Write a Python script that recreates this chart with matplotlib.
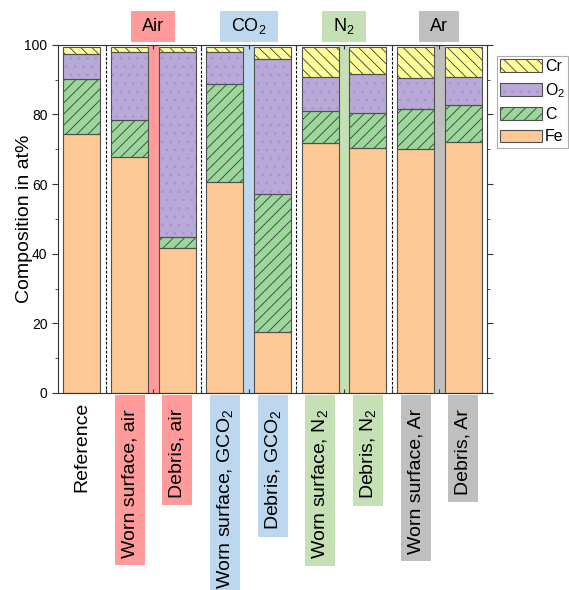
import numpy as np
import matplotlib
matplotlib.use('Agg')
import matplotlib.pyplot as plt
from matplotlib.patches import Patch, Rectangle
from matplotlib.transforms import IdentityTransform
from matplotlib.legend_handler import HandlerTuple
from matplotlib.ticker import MultipleLocator

plt.rcParams['font.family'] = ['Liberation Sans', 'DejaVu Sans']
plt.rcParams['mathtext.fontset'] = 'custom'
plt.rcParams['mathtext.rm'] = 'Liberation Sans'
plt.rcParams['mathtext.it'] = 'Liberation Sans:italic'
plt.rcParams['hatch.linewidth'] = 0.6

# EDX composition (at%) per sample
samples = ['Reference', 'Worn surface, air', 'Debris, air',
           'Worn surface, GCO$_2$', 'Debris, GCO$_2$',
           'Worn surface, N$_2$', 'Debris, N$_2$',
           'Worn surface, Ar', 'Debris, Ar']
fe = [74.5, 67.9, 41.7, 60.6, 17.5, 71.8, 70.5, 70.0, 72.2]
c = [15.7, 10.4, 3.2, 28.2, 39.6, 9.3, 9.9, 11.6, 10.5]
o2 = [7.3, 19.7, 53.0, 9.2, 38.9, 9.8, 11.1, 8.9, 8.2]
cr = [2.0, 1.5, 1.6, 1.5, 3.5, 8.6, 8.0, 9.0, 8.6]

atmospheres = ['Air', 'CO$_2$', 'N$_2$', 'Ar']
atm_colors = ['#ff9b9b', '#bdd7ee', '#c5e0b4', '#bfbfbf']

layers = [
    ('Fe', fe, '#fcc896', '', '#fcc896'),
    ('C', c, '#9bd69b', '///', '#3c3c3c'),
    ('O$_2$', o2, '#b9a9d8', '..', '#a692cc'),
    ('Cr', cr, '#ffff99', '\\\\\\', '#3c3c3c'),
]
edge = '#505050'
width = 0.78

fig = plt.figure(figsize=(5.69, 5.90), dpi=100)
ax = fig.add_axes([0.102, 0.334, 0.754, 0.590])

x = np.arange(len(samples))
bottom = np.zeros(len(samples))
handles, labels = [], []
for name, vals, face, hatch, hcolor in layers:
    vals = np.asarray(vals)
    ax.bar(x, vals, width, bottom=bottom, color=face, edgecolor=hcolor,
           hatch=hatch, linewidth=0, zorder=2)
    ax.bar(x, vals, width, bottom=bottom, facecolor='none', edgecolor=edge,
           linewidth=0.8, zorder=3)
    bottom += vals
    handles.append((Patch(facecolor=face, edgecolor=hcolor, hatch=hatch, lw=0),
                    Patch(facecolor='none', edgecolor=edge, lw=0.8)))
    labels.append(name)

# coloured strips between the two samples of one atmosphere, dashed lines between groups
for k, col in enumerate(atm_colors):
    ax.axvspan(2 * k + 1 + width / 2, 2 * k + 2 - width / 2, color=col, zorder=1, lw=0)
    ax.axvline(2 * k + 0.5, color='black', ls=(0, (2.5, 1.5)), lw=0.8, zorder=1)

ax.set_xlim(-0.5, len(samples) - 0.5)
ax.set_ylim(0, 100)
ax.yaxis.set_major_locator(MultipleLocator(20))
ax.yaxis.set_minor_locator(MultipleLocator(10))
ax.set_xticks(np.arange(0.5, len(samples) - 1, 1))
ax.tick_params(axis='x', which='major', direction='in', length=3, top=True,
               labelbottom=False, color='#333333')
ax.tick_params(axis='y', which='major', direction='out', length=4, right=True,
               labelsize=10, color='#333333')
ax.tick_params(axis='y', which='minor', direction='out', length=2, right=True,
               color='#333333')
for sp in ax.spines.values():
    sp.set_color('#333333')
    sp.set_linewidth(0.8)

ax.set_ylabel('Composition in at%', fontsize=14)
ax.yaxis.set_label_coords(-0.058, 0.5)

# sample names below the bars
name_texts = []
for i, s in enumerate(samples):
    off = 9 if i == 0 else 16
    t = ax.annotate(s, xy=(i, 0), xycoords=('data', 'axes fraction'),
                    xytext=(0, -off), textcoords='offset pixels',
                    rotation=90, ha='center', va='top', fontsize=14,
                    annotation_clip=False)
    name_texts.append(t)

# atmosphere headers above the strips
head_texts = []
for k, atm in enumerate(atmospheres):
    t = ax.text(2 * k + 1.5, 1.053, atm, transform=ax.get_xaxis_transform(),
                ha='center', va='center', fontsize=13, clip_on=False)
    head_texts.append(t)

leg = ax.legend(handles[::-1], labels[::-1],
                handler_map={tuple: HandlerTuple(ndivide=1, pad=0)},
                loc='upper left', bbox_to_anchor=(497 / 569, 1 - 56 / 590),
                bbox_transform=fig.transFigure, fontsize=11.5, frameon=True,
                fancybox=False, edgecolor='#999999', handlelength=2.6,
                handleheight=0.85, labelspacing=0.45, borderpad=0.2,
                handletextpad=0.2, borderaxespad=0)
leg.get_frame().set_linewidth(0.8)

# coloured boxes behind the atmosphere texts and the sample names
fig.canvas.draw()
renderer = fig.canvas.get_renderer()
ax_bb = ax.bbox
for k, t in enumerate(head_texts):
    bb = t.get_window_extent(renderer)
    cx = (bb.x0 + bb.x1) / 2
    w = bb.width + 22
    fig.add_artist(Rectangle((cx - w / 2, ax_bb.y1 + 3), w, 31,
                             transform=IdentityTransform(),
                             facecolor=atm_colors[k], edgecolor='none', zorder=-1))
for i, t in enumerate(name_texts):
    if i == 0:
        continue
    bb = t.get_window_extent(renderer)
    cx = (bb.x0 + bb.x1) / 2
    top = ax_bb.y0 - 2
    low = max(bb.y0 - 7, 0)
    fig.add_artist(Rectangle((cx - 15, low), 30, top - low,
                             transform=IdentityTransform(),
                             facecolor=atm_colors[(i - 1) // 2], edgecolor='none',
                             zorder=-1))

fig.savefig('out.png', dpi=100)
